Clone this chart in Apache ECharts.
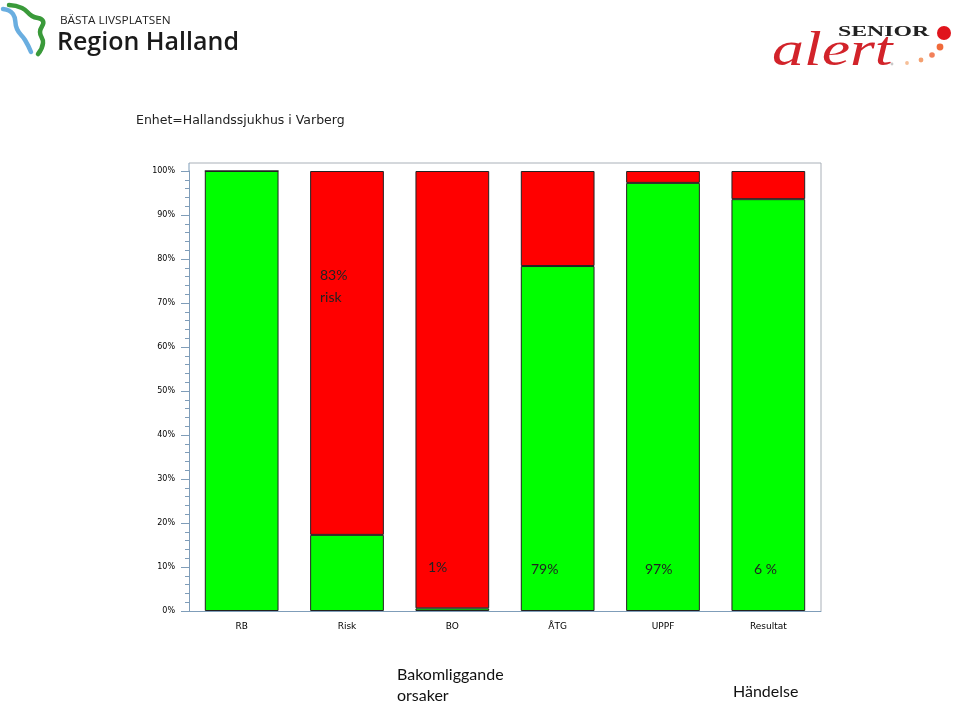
<!DOCTYPE html>
<html>
<head>
<meta charset="utf-8">
<script src="https://cdn.jsdelivr.net/npm/echarts@6/dist/echarts.min.js"></script>
<style>html,body{margin:0;padding:0;background:#fff}#c{width:960px;height:703px}</style>
</head>
<body>
<div id="c"></div>
<script>
// ---- data ----
const categories = ['RB', 'Risk', 'BO', 'ÅTG', 'UPPF', 'Resultat'];
const greenValues = [100, 17.3, 0.6, 78.4, 97.3, 93.6];
const redValues = [0, 82.7, 99.4, 21.6, 2.7, 6.4];
const title = 'Enhet=Hallandssjukhus i Varberg';
const annotations = ['83%\nrisk', '1%', '79%', '97%', '6 %'];
const footerLeft = 'Bakomliggande\norsaker';
const footerRight = 'Händelse';

const axisColor = '#7f9db9';
const chart = echarts.init(document.getElementById('c'));
const annFont = { fontFamily: 'Lato', fontSize: 14, fill: '#222' };

chart.setOption({
  backgroundColor: '#fff',
  animation: false,
  grid: { left: 189, right: 139, top: 171, bottom: 92, containLabel: false },
  xAxis: {
    type: 'category',
    data: categories,
    axisLine: { lineStyle: { color: axisColor } },
    axisTick: { show: false },
    axisLabel: { fontFamily: 'DejaVu Sans', fontSize: 9, color: '#000', margin: 11 }
  },
  yAxis: {
    type: 'value',
    min: 0, max: 100, interval: 10,
    axisLine: { show: true, lineStyle: { color: axisColor } },
    axisTick: { show: true, length: 8, lineStyle: { color: axisColor } },
    minorTick: { show: true, splitNumber: 5, length: 4, lineStyle: { color: axisColor } },
    splitLine: { show: false },
    axisLabel: { formatter: '{value}%', fontFamily: 'DejaVu Sans', fontSize: 8, color: '#000', margin: 14 }
  },
  series: [
    { type: 'bar', stack: 's', data: greenValues, barWidth: '70%',
      itemStyle: { color: '#00ff00', borderColor: '#222', borderWidth: 1 } },
    { type: 'bar', stack: 's', data: redValues, barWidth: '70%',
      itemStyle: { color: '#ff0000', borderColor: '#222', borderWidth: 1 } }
  ],
  graphic: [
    // plot frame (top/right)
    { type: 'polyline', shape: { points: [[189, 163], [821, 163], [821, 611]] }, style: { stroke: '#a9b0b8', fill: null, lineWidth: 1 }, z: 1 },
    { type: 'line', shape: { x1: 189, y1: 163, x2: 189, y2: 171 }, style: { stroke: axisColor, lineWidth: 1 }, z: 1 },
    // title
    { type: 'text', x: 136, y: 121, style: { text: title, fontFamily: 'DejaVu Sans', fontSize: 12.5, fill: '#222', verticalAlign: 'middle' } },
    // annotations
    { type: 'text', x: 320, y: 264, z: 10, style: Object.assign({ text: annotations[0], lineHeight: 22, verticalAlign: 'top' }, annFont) },
    { type: 'text', x: 428, y: 567, z: 10, style: Object.assign({ text: annotations[1], verticalAlign: 'middle' }, annFont) },
    { type: 'text', x: 531, y: 569, z: 10, style: Object.assign({ text: annotations[2], verticalAlign: 'middle' }, annFont) },
    { type: 'text', x: 645, y: 569, z: 10, style: Object.assign({ text: annotations[3], verticalAlign: 'middle' }, annFont) },
    { type: 'text', x: 754, y: 569, z: 10, style: Object.assign({ text: annotations[4], verticalAlign: 'middle' }, annFont) },
    { type: 'text', x: 397, y: 664, style: { text: footerLeft, fontFamily: 'Lato', fontSize: 16, lineHeight: 21, fill: '#111', verticalAlign: 'top' } },
    { type: 'text', x: 733, y: 692, style: { text: footerRight, fontFamily: 'Lato', fontSize: 16, fill: '#111', verticalAlign: 'middle' } },
    // Region Halland logo
    { type: 'polyline', shape: { points: [[9, 5], [22, 8], [32, 16], [43, 21], [40, 32], [43, 43], [38, 54]], smooth: 0.5 }, style: { stroke: '#3a9a3a', lineWidth: 4.5, fill: null, lineCap: 'round' } },
    { type: 'polyline', shape: { points: [[3, 9], [13, 14], [17, 29], [25, 40], [31, 52]], smooth: 0.5 }, style: { stroke: '#6aaee0', lineWidth: 4.5, fill: null, lineCap: 'round' } },
    { type: 'text', x: 60, y: 21, style: { text: 'BÄSTA LIVSPLATSEN', fontFamily: 'Open Sans', fontSize: 10, fill: '#222', verticalAlign: 'middle' }, scaleX: 1.18 },
    { type: 'text', x: 57, y: 43, style: { text: 'Region Halland', fontFamily: 'Open Sans', fontWeight: 600, fontSize: 25, fill: '#1a1a1a', verticalAlign: 'middle' }, scaleX: 1.0 },
    // Senior alert logo
    { type: 'text', x: 838, y: 32, z: 5, style: { text: 'SENIOR', fontFamily: 'Liberation Serif', fontWeight: 'bold', fontSize: 14, fill: '#222', verticalAlign: 'middle' }, scaleX: 1.7 },
    { type: 'circle', shape: { cx: 944, cy: 33, r: 7 }, style: { fill: '#e0141c' } },
    { type: 'text', x: 772, y: 52, style: { text: 'alert', fontFamily: 'Liberation Serif', fontStyle: 'italic', fontSize: 48, fill: '#d2232a', verticalAlign: 'middle' }, scaleX: 1.33 },
    { type: 'circle', shape: { cx: 940, cy: 47, r: 3.4 }, style: { fill: '#f06a3a' } },
    { type: 'circle', shape: { cx: 932, cy: 55, r: 2.8 }, style: { fill: '#f2805a' } },
    { type: 'circle', shape: { cx: 921, cy: 60, r: 2.4 }, style: { fill: '#f4a070' } },
    { type: 'circle', shape: { cx: 907, cy: 63, r: 1.9 }, style: { fill: '#f6bf98' } },
    { type: 'circle', shape: { cx: 892, cy: 64, r: 1.4 }, style: { fill: '#c8c8c8' } }
  ]
});
</script>
</body>
</html>
